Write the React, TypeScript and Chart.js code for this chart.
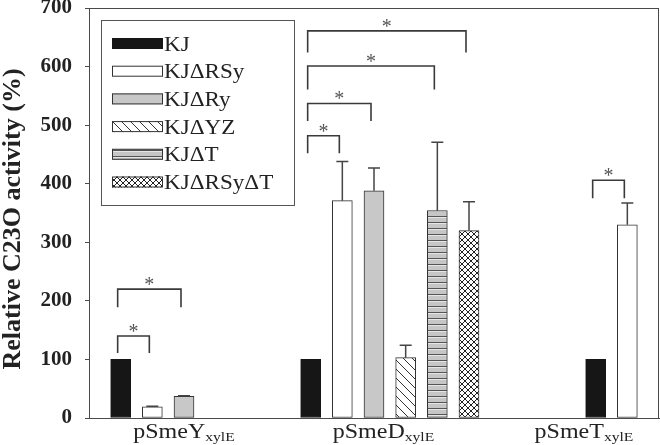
import React, { useEffect, useRef } from "react";
import { Chart, registerables } from "chart.js";
Chart.register(...registerables);

// ---- data ----
const groups = ["pSmeY", "pSmeD", "pSmeT"];
const groupSub = "xylE";
const seriesNames = ["KJ", "KJΔRSy", "KJΔRy", "KJΔYZ", "KJΔT", "KJΔRSyΔT"];

const valKJ = [100, 100, 100];
const valRSy = [19, 371, 330];
const valRy = [37, 388, null];
const valYZ = [null, 103, null];
const valT = [null, 354, null];
const valRSyT = [null, 320, null];

const errKJ = [0, 0, 0];
const errRSy = [1, 67, 37];
const errRy = [1, 39, null];
const errYZ = [null, 21, null];
const errT = [null, 117, null];
const errRSyT = [null, 49, null];

const yTicks = [0, 100, 200, 300, 400, 500, 600, 700];
const yTitle = "Relative C23O activity (%)";

// significance brackets
const bracketGroup = [0, 0, 1, 1, 1, 1, 2];
const bracketFrom = [0, 0, 0, 0, 0, 0, 0];
const bracketTo = [1, 2, 1, 2, 4, 5, 1];
const bracketTop = [140, 220, 482, 537, 601, 661, 406];
const bracketBottom = [111, 189, 452, 507, 561, 624, 375];

// ---- layout (slot positions on the category axis) ----
const slotCount = 19;
const groupStartSlot = [1, 7, 16];
const groupLabelSlot = [3.0, 9.3, 15.63];

const seriesValues = [valKJ, valRSy, valRy, valYZ, valT, valRSyT];
const seriesErrors = [errKJ, errRSy, errRy, errYZ, errT, errRSyT];

const SERIF = "'Liberation Serif', 'Times New Roman', Times, serif";

function makePattern(kind: string): CanvasPattern | string {
  const c = document.createElement("canvas");
  const g = c.getContext("2d")!;
  if (kind === "diag") {
    const s = 9;
    c.width = s; c.height = s;
    g.fillStyle = "#ffffff"; g.fillRect(0, 0, s, s);
    g.strokeStyle = "#333"; g.lineWidth = 1;
    g.beginPath();
    g.moveTo(-1, -1); g.lineTo(s + 1, s + 1);
    g.moveTo(-1, s - 1); g.lineTo(1, s + 1);
    g.moveTo(s - 1, -1); g.lineTo(s + 1, 1);
    g.stroke();
  } else if (kind === "hstripe") {
    c.width = 6; c.height = 6;
    g.fillStyle = "#c6c6c6"; g.fillRect(0, 0, 6, 6);
    g.fillStyle = "#e6e6e6"; g.fillRect(0, 1, 6, 1);
    g.fillStyle = "#555"; g.fillRect(0, 0, 6, 1);
  } else if (kind === "cross") {
    const s = 6;
    c.width = s; c.height = s;
    g.fillStyle = "#ffffff"; g.fillRect(0, 0, s, s);
    g.strokeStyle = "#222"; g.lineWidth = 1;
    g.beginPath();
    g.moveTo(0, 0); g.lineTo(s, s);
    g.moveTo(s, 0); g.lineTo(0, s);
    g.stroke();
  }
  return g.createPattern(c, "repeat")!;
}

export default function App() {
  const ref = useRef<HTMLCanvasElement>(null);

  useEffect(() => {
    document.body.style.margin = "0";
    const canvas = ref.current!;
    let chart: Chart | null = null;
    let cancelled = false;

    const build = () => {
      if (cancelled) return;
      const fills: any[] = [
        "#161616",
        "#ffffff",
        "#c8c8c8",
        makePattern("diag"),
        makePattern("hstripe"),
        makePattern("cross"),
      ];
      const borders = ["#161616", "#333", "#333", "#333", "#333", "#333"];

      const labels = Array.from({ length: slotCount }, (_, i) => String(i));
      const datasets = seriesNames.map((name, s) => {
        const data: (number | null)[] = Array(slotCount).fill(null);
        groups.forEach((_, g) => {
          const v = seriesValues[s][g];
          if (v != null) data[groupStartSlot[g] + s] = v;
        });
        return {
          label: name,
          data,
          backgroundColor: fills[s],
          borderColor: borders[s],
          borderWidth: 1,
          borderSkipped: false as const,
          grouped: false,
          barThickness: 20,
        };
      });

      const decor = {
        id: "decor",
        afterDatasetsDraw(ch: any) {
          const ctx = ch.ctx as CanvasRenderingContext2D;
          const xs = ch.scales.x;
          const ys = ch.scales.y;
          const ca = ch.chartArea;
          ctx.save();

          // frame
          ctx.strokeStyle = "#4a4a4a";
          ctx.lineWidth = 1;
          ctx.strokeRect(ca.left + 0.5, ca.top + 0.5, ca.right - ca.left - 1, ca.bottom - ca.top);

          // error bars
          ctx.strokeStyle = "#444";
          ctx.lineWidth = 1.5;
          seriesNames.forEach((_, s) => {
            groups.forEach((_, g) => {
              const v = seriesValues[s][g];
              const e = seriesErrors[s][g];
              if (v == null || !e) return;
              const x = xs.getPixelForValue(groupStartSlot[g] + s);
              const y0 = ys.getPixelForValue(v);
              const y1 = ys.getPixelForValue(v + e);
              ctx.beginPath();
              ctx.moveTo(x, y0);
              ctx.lineTo(x, y1);
              ctx.moveTo(x - 6, y1);
              ctx.lineTo(x + 6, y1);
              ctx.stroke();
            });
          });

          // significance brackets
          bracketGroup.forEach((g, i) => {
            const xa = xs.getPixelForValue(groupStartSlot[g] + bracketFrom[i]) - 3;
            const xb = xs.getPixelForValue(groupStartSlot[g] + bracketTo[i]) - 3;
            const yt = ys.getPixelForValue(bracketTop[i]);
            const yb = ys.getPixelForValue(bracketBottom[i]);
            ctx.strokeStyle = "#3a3a3a";
            ctx.lineWidth = 1.6;
            ctx.beginPath();
            ctx.moveTo(xa, yb);
            ctx.lineTo(xa, yt);
            ctx.lineTo(xb, yt);
            ctx.lineTo(xb, yb);
            ctx.stroke();
            ctx.fillStyle = "#555";
            ctx.font = `20px ${SERIF}`;
            ctx.textAlign = "center";
            ctx.textBaseline = "alphabetic";
            ctx.fillText("*", (xa + xb) / 2, yt - 8 + 10);
          });

          // x group labels with subscript
          groups.forEach((name, g) => {
            const cx = xs.getPixelForDecimal(groupLabelSlot[g] / (slotCount - 1));
            const stretch = 1.2;
            ctx.font = `20px ${SERIF}`;
            const wMain = ctx.measureText(name).width;
            ctx.font = `13px ${SERIF}`;
            const wSub = ctx.measureText(groupSub).width;
            const total = (wMain + wSub) * stretch;
            const x0 = cx - total / 2;
            ctx.fillStyle = "#222";
            ctx.textAlign = "left";
            ctx.textBaseline = "alphabetic";
            ctx.save();
            ctx.translate(x0, 438);
            ctx.scale(stretch, 1);
            ctx.font = `20px ${SERIF}`;
            ctx.fillText(name, 0, 0);
            ctx.font = `13px ${SERIF}`;
            ctx.fillText(groupSub, wMain, 3);
            ctx.restore();
          });

          // y axis title
          ctx.save();
          ctx.translate(13, 219);
          ctx.rotate(-Math.PI / 2);
          ctx.font = `bold 26px ${SERIF}`;
          ctx.fillStyle = "#222";
          ctx.textAlign = "center";
          ctx.textBaseline = "middle";
          ctx.fillText(yTitle, 0, 0);
          ctx.restore();

          // legend
          ctx.strokeStyle = "#555";
          ctx.lineWidth = 1;
          ctx.fillStyle = "#ffffff";
          ctx.fillRect(101.5, 20.5, 193, 185);
          ctx.strokeRect(101.5, 20.5, 193, 185);
          seriesNames.forEach((name, s) => {
            const cy = 43.5 + s * 27.7;
            ctx.fillStyle = fills[s];
            ctx.fillRect(112, cy - 5.5, 51, 11);
            ctx.strokeStyle = borders[s];
            ctx.lineWidth = 1;
            ctx.strokeRect(112.5, cy - 5, 50, 10);
            ctx.save();
            ctx.translate(164, cy + 7);
            ctx.scale(1.1, 1);
            ctx.fillStyle = "#222";
            ctx.font = `21px ${SERIF}`;
            ctx.textAlign = "left";
            ctx.textBaseline = "alphabetic";
            ctx.fillText(name, 0, 0);
            ctx.restore();
          });

          ctx.restore();
        },
      };

      chart = new Chart(canvas, {
        type: "bar",
        data: { labels, datasets: datasets as any },
        options: {
          responsive: false,
          animation: false,
          layout: { padding: { top: 8, right: 1, bottom: 27, left: 0 } },
          plugins: {
            legend: { display: false },
            tooltip: { enabled: false },
            title: { display: false },
          },
          scales: {
            x: {
              type: "category",
              offset: false,
              grid: { display: false, drawTicks: false, offset: false },
              border: { display: true, color: "#4a4a4a", width: 1 },
              ticks: { display: false },
              afterFit: (scale: any) => {
                scale.height = 0;
                scale.paddingLeft = 0;
                scale.paddingRight = 0;
              },
            },
            y: {
              min: 0,
              max: 700,
              afterBuildTicks: (scale: any) => {
                scale.ticks = yTicks.map((v) => ({ value: v }));
              },
              ticks: {
                stepSize: 100,
                padding: 13,
                color: "#222",
                font: { family: SERIF, size: 21, weight: "bold" },
              },
              grid: {
                display: true,
                drawOnChartArea: false,
                drawTicks: true,
                tickLength: 4,
                color: "#4a4a4a",
              },
              border: { display: true, color: "#4a4a4a", width: 1 },
              afterFit: (scale: any) => {
                scale.width = 89;
                scale.paddingTop = 0;
                scale.paddingBottom = 0;
              },
            },
          },
        },
        plugins: [decor],
      });
    };

    const fontsApi: any = (document as any).fonts;
    if (fontsApi && fontsApi.load) {
      Promise.all([
        fontsApi.load(`21px 'Liberation Serif'`),
        fontsApi.load(`bold 21px 'Liberation Serif'`),
      ])
        .catch(() => null)
        .then(() => build());
    } else {
      build();
    }

    return () => {
      cancelled = true;
      if (chart) chart.destroy();
    };
  }, []);

  return (
    <div style={{ width: 660, height: 445 }}>
      <span style={{ fontFamily: "'Liberation Serif'", position: "absolute", visibility: "hidden" }}>
        .
      </span>
      <span style={{ fontFamily: "'Liberation Serif'", fontWeight: "bold", position: "absolute", visibility: "hidden" }}>
        .
      </span>
      <canvas ref={ref} width={660} height={445} />
    </div>
  );
}
